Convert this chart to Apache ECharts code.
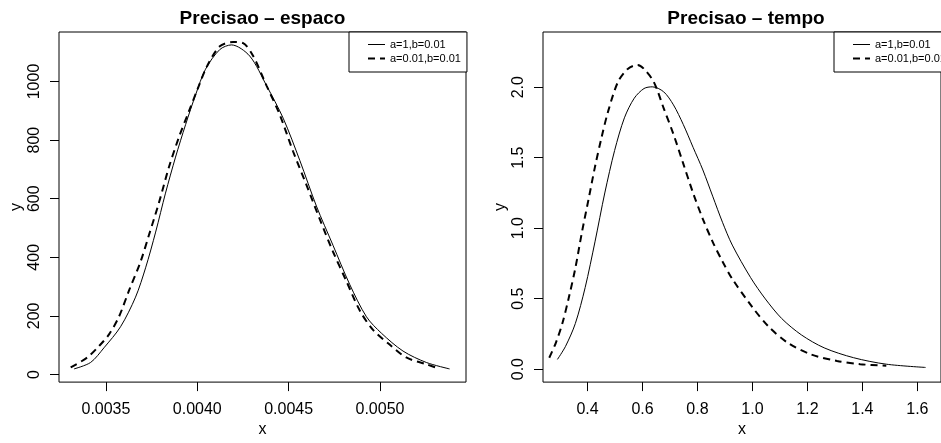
<!DOCTYPE html>
<html>
<head>
<meta charset="utf-8">
<script src="https://cdn.jsdelivr.net/npm/echarts@6/dist/echarts.min.js"></script>
<style>
html,body{margin:0;padding:0;background:#fff;}
#c{width:941px;height:443px;}
</style>
</head>
<body>
<div id="c"></div>
<script>
// ---- data ----
const seriesNames = ['a=1,b=0.01', 'a=0.01,b=0.01'];
const titles = ['Precisao \u2013 espaco', 'Precisao \u2013 tempo'];

// Left panel: Precisao - espaco
const leftX1 = [0.003325, 0.003416, 0.003489, 0.00358, 0.003662, 0.003717, 0.003772, 0.003826, 0.003881, 0.003936, 0.003991, 0.004045, 0.004123, 0.004187, 0.004287, 0.004379, 0.00447, 0.004561, 0.004652, 0.004743, 0.004834, 0.004926, 0.005008, 0.005126, 0.005254, 0.005381];
const leftY1 = [19, 41, 91, 163, 264, 364, 486, 619, 742, 853, 955, 1042, 1109, 1125, 1087, 986, 875, 731, 575, 441, 308, 197, 141, 80, 41, 19];
const leftX2 = [0.003307, 0.003398, 0.003462, 0.003516, 0.003571, 0.003626, 0.00369, 0.003735, 0.00379, 0.003845, 0.003899, 0.003954, 0.004009, 0.004054, 0.004123, 0.004196, 0.004251, 0.004306, 0.004379, 0.004452, 0.004524, 0.004597, 0.00467, 0.004743, 0.004816, 0.004889, 0.004962, 0.005053, 0.005144, 0.005254, 0.005327];
const leftY2 = [24, 58, 97, 136, 197, 286, 386, 475, 586, 708, 809, 898, 986, 1053, 1120, 1135, 1131, 1087, 986, 886, 762, 648, 531, 419, 319, 219, 152, 102, 58, 35, 19];

// Right panel: Precisao - tempo
const rightX1 = [0.2905, 0.32, 0.3557, 0.3914, 0.4271, 0.4628, 0.4985, 0.5342, 0.5699, 0.6055, 0.6355, 0.6769, 0.7126, 0.7483, 0.784, 0.8196, 0.8553, 0.891, 0.9267, 0.9935, 1.047, 1.1065, 1.178, 1.261, 1.368, 1.487, 1.63];
const rightY1 = [0.069, 0.162, 0.324, 0.579, 0.903, 1.25, 1.551, 1.783, 1.922, 1.991, 2.003, 1.968, 1.875, 1.736, 1.574, 1.413, 1.227, 1.042, 0.88, 0.649, 0.498, 0.359, 0.243, 0.151, 0.081, 0.035, 0.012];
const rightX2 = [0.2608, 0.2844, 0.3083, 0.3322, 0.3558, 0.3797, 0.4036, 0.4271, 0.451, 0.4749, 0.5106, 0.5463, 0.582, 0.6055, 0.6412, 0.6769, 0.7126, 0.7483, 0.784, 0.8196, 0.8553, 0.891, 0.9267, 0.9996, 1.059, 1.13, 1.2136, 1.308, 1.392, 1.487];
const rightY2 = [0.081, 0.185, 0.324, 0.51, 0.718, 0.972, 1.204, 1.435, 1.644, 1.829, 2.037, 2.13, 2.158, 2.13, 2.037, 1.852, 1.667, 1.458, 1.25, 1.065, 0.903, 0.764, 0.64, 0.44, 0.301, 0.185, 0.104, 0.058, 0.035, 0.024];

// tick labels
const leftXTicks = [0.0035, 0.0040, 0.0045, 0.0050];
const leftYTicks = [0, 200, 400, 600, 800, 1000];
const rightXTicks = [0.4, 0.6, 0.8, 1.0, 1.2, 1.4, 1.6];
const rightYTicks = [0.0, 0.5, 1.0, 1.5, 2.0];

// axis ranges (R style: data range extended by 4%)
const leftXRange = [0.003243, 0.005471];
const leftYRange = [-26, 1169];
const rightXRange = [0.238, 1.686];
const rightYRange = [-0.092, 2.392];

// ---- build ----
const FONT = '"Liberation Sans", Arial, Helvetica, sans-serif';
const zip = (xs, ys) => xs.map((x, i) => [x, ys[i]]);
const SOLID = { color: '#000', width: 1, type: 'solid' };
const DASHED = { color: '#000', width: 2, type: [7, 5] };

function xAxis(grid, range, ticks, dec) {
  return {
    type: 'value', gridIndex: grid, min: range[0], max: range[1],
    name: 'x', nameLocation: 'middle', nameGap: 38,
    nameTextStyle: { color: '#000', fontSize: 16, fontFamily: FONT },
    axisLine: { show: false, onZero: false },
    splitLine: { show: false },
    axisTick: { show: true, inside: false, length: 9, customValues: ticks, lineStyle: { color: '#000', width: 1 } },
    axisLabel: { show: true, customValues: ticks, margin: 19, color: '#000', fontSize: 16, fontFamily: FONT,
      formatter: v => Number(v).toFixed(dec) }
  };
}
function yAxis(grid, range, ticks, dec) {
  return {
    type: 'value', gridIndex: grid, min: range[0], max: range[1],
    name: 'y', nameLocation: 'middle', nameGap: 34, nameRotate: 90,
    nameTextStyle: { color: '#000', fontSize: 16, fontFamily: FONT },
    axisLine: { show: false, onZero: false },
    splitLine: { show: false },
    axisTick: { show: true, inside: false, length: 9, customValues: ticks, lineStyle: { color: '#000', width: 1 } },
    axisLabel: { show: true, customValues: ticks, margin: 16, rotate: 90, color: '#000', fontSize: 16, fontFamily: FONT,
      formatter: v => Number(v).toFixed(dec) }
  };
}
function lineSeries(name, xi, yi, data, dashed) {
  return {
    type: 'line', name: name, xAxisIndex: xi, yAxisIndex: yi, data: data,
    symbol: 'none', showSymbol: false, smooth: 0.3, clip: true,
    lineStyle: dashed ? DASHED : SOLID,
    itemStyle: { color: '#000' }
  };
}
function legend(left) {
  return {
    show: true, orient: 'vertical', left: left, top: 32,
    data: [
      { name: seriesNames[0], lineStyle: SOLID },
      { name: seriesNames[1], lineStyle: DASHED }
    ],
    selectedMode: false,
    itemWidth: 17, itemHeight: 11, itemGap: 3,
    padding: [7, 6, 8, 18],
    borderColor: '#000', borderWidth: 1, backgroundColor: '#fff',
    itemStyle: { color: 'transparent', borderWidth: 0, opacity: 0 },
    textStyle: { color: '#000', fontSize: 11, lineHeight: 11, fontFamily: FONT }
  };
}

const option = {
  animation: false,
  backgroundColor: '#fff',
  title: [
    { text: titles[0], left: 257.5, top: 4, textAlign: 'center',
      textStyle: { color: '#000', fontSize: 19, fontWeight: 'bold', fontFamily: FONT } },
    { text: titles[1], left: 741, top: 4, textAlign: 'center',
      textStyle: { color: '#000', fontSize: 19, fontWeight: 'bold', fontFamily: FONT } }
  ],
  legend: [legend(349), legend(834)],
  grid: [
    { left: 59, top: 32, width: 407, height: 358, show: true, borderColor: '#000', borderWidth: 1, backgroundColor: 'transparent', containLabel: false },
    { left: 543, top: 32, width: 406, height: 358, show: true, borderColor: '#000', borderWidth: 1, backgroundColor: 'transparent', containLabel: false }
  ],
  xAxis: [xAxis(0, leftXRange, leftXTicks, 4), xAxis(1, rightXRange, rightXTicks, 1)],
  yAxis: [yAxis(0, leftYRange, leftYTicks, 0), yAxis(1, rightYRange, rightYTicks, 1)],
  series: [
    lineSeries(seriesNames[0], 0, 0, zip(leftX1, leftY1), false),
    lineSeries(seriesNames[1], 0, 0, zip(leftX2, leftY2), true),
    lineSeries(seriesNames[0], 1, 1, zip(rightX1, rightY1), false),
    lineSeries(seriesNames[1], 1, 1, zip(rightX2, rightY2), true)
  ]
};

const chart = echarts.init(document.getElementById('c'), null, { renderer: 'canvas' });
chart.setOption(option);
</script>
</body>
</html>
